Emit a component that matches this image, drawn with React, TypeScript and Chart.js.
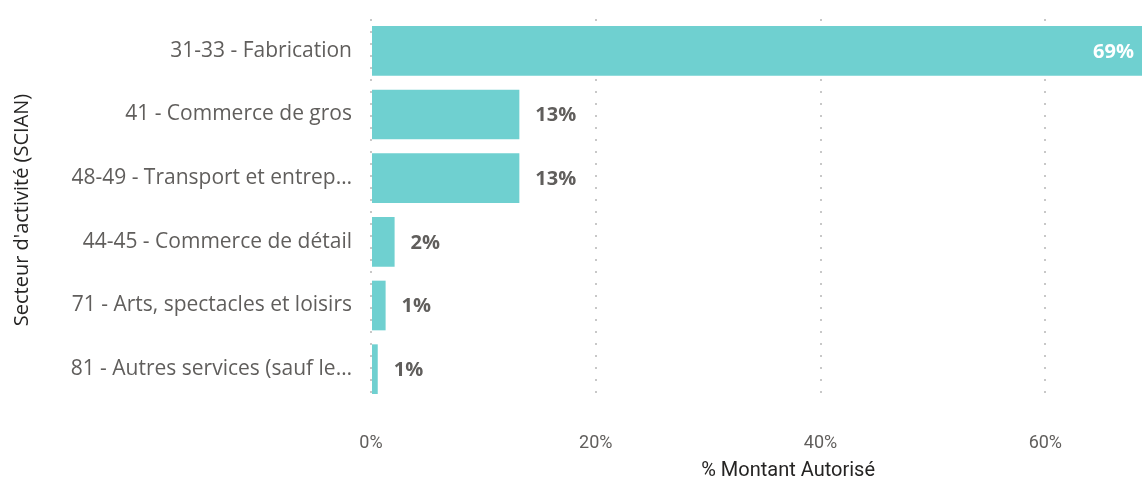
import React, { useEffect, useRef } from "react";
import { Chart, registerables } from "chart.js";

Chart.register(...registerables);

const categories = [
  "31-33 - Fabrication",
  "41 - Commerce de gros",
  "48-49 - Transport et entrep…",
  "44-45 - Commerce de détail",
  "71 - Arts, spectacles et loisirs",
  "81 - Autres services (sauf le…",
];
const values = [68.6, 13.2, 13.2, 2.1, 1.3, 0.6];
const xTicks = [0, 20, 40, 60];
const yTitle = "Secteur d'activité (SCIAN)";
const xTitle = "% Montant Autorisé";

const BAR = "#6FD0D0";
const LABEL_FONT = "'Open Sans', 'Noto Sans', sans-serif";
const COND_FONT = "'Liberation Sans Narrow', 'Roboto', sans-serif";

const dataLabelPlugin = {
  id: "dataLabels",
  afterDatasetsDraw(chart: any) {
    const ctx = chart.ctx;
    const meta = chart.getDatasetMeta(0);
    const maxV = Math.max(...values);
    ctx.save();
    ctx.font = `bold 20px ${LABEL_FONT}`;
    ctx.textBaseline = "middle";
    meta.data.forEach((el: any, i: number) => {
      const v = values[i];
      const txt = `${Math.round(v)}%`;
      if (v === maxV) {
        ctx.fillStyle = "#FFFFFF";
        ctx.textAlign = "right";
        ctx.fillText(txt, el.x - 8, el.y + 1);
      } else {
        ctx.fillStyle = "#605E5C";
        ctx.textAlign = "left";
        ctx.fillText(txt, el.x + 16, el.y + 1);
      }
    });
    ctx.restore();
  },
};

const xTitlePlugin = {
  id: "xTitle",
  afterDraw(chart: any) {
    const ctx = chart.ctx;
    const a = chart.chartArea;
    ctx.save();
    ctx.font = `20px ${COND_FONT}`;
    ctx.fillStyle = "#252423";
    ctx.textAlign = "center";
    ctx.textBaseline = "middle";
    ctx.fillText(xTitle, a.left + (a.right - a.left) * 0.541, chart.height - 15);
    ctx.restore();
  },
};

export default function App() {
  const ref = useRef<HTMLCanvasElement>(null);
  useEffect(() => {
    if (!ref.current) return;
    const chart = new Chart(ref.current, {
      type: "bar",
      data: {
        labels: categories,
        datasets: [
          {
            data: values,
            backgroundColor: BAR,
            categoryPercentage: 1,
            barPercentage: 0.78,
          },
        ],
      },
      options: {
        indexAxis: "y",
        animation: false,
        responsive: false,
        maintainAspectRatio: false,
        layout: { padding: { top: 19, right: 0, bottom: 0, left: 0 } },
        plugins: {
          legend: { display: false },
          tooltip: { enabled: false },
        },
        scales: {
          x: {
            min: 0,
            max: Math.max(...values),
            afterBuildTicks: (scale: any) => {
              scale.ticks = xTicks.map((v) => ({ value: v }));
            },
            afterFit: (scale: any) => {
              scale.height = 85;
              scale.paddingLeft = 0;
              scale.paddingRight = 0;
            },
            grid: {
              color: "#C8C8C8",
              lineWidth: 2,
              drawTicks: false,
            } as any,
            border: { display: false, dash: [2, 10] },
            ticks: {
              color: "#605E5C",
              font: { family: COND_FONT, size: 18 },
              padding: 32,
              maxRotation: 0,
              callback: (v: any) => `${v}%`,
            },
          },
          y: {
            afterFit: (scale: any) => {
              scale.width = 371;
              scale.paddingTop = 0;
              scale.paddingBottom = 0;
            },
            grid: { display: false, drawTicks: false },
            border: { display: false },
            ticks: {
              color: "#605E5C",
              font: { family: LABEL_FONT, size: 21 },
              padding: 19,
            },
            title: {
              display: true,
              text: yTitle,
              color: "#252423",
              font: { family: LABEL_FONT, size: 20 },
              padding: { top: 10, bottom: 0 },
            },
          },
        },
      },
      plugins: [dataLabelPlugin, xTitlePlugin],
    });
    return () => chart.destroy();
  }, []);
  return (
    <div style={{ position: "absolute", left: 0, top: 0, width: 1142, height: 486 }}>
      <canvas ref={ref} width={1142} height={486} style={{ width: 1142, height: 486 }} />
    </div>
  );
}
